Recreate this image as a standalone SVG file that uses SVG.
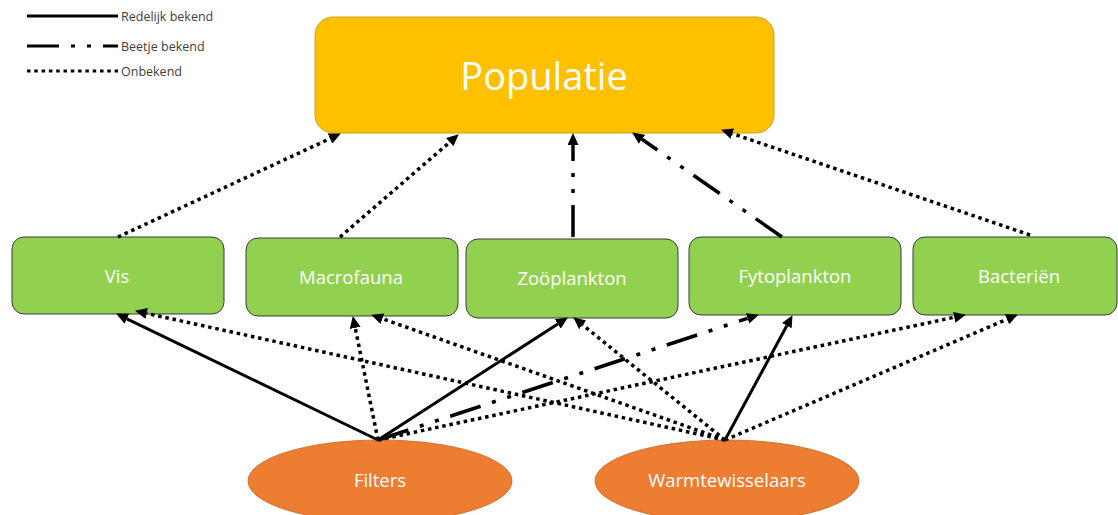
<svg xmlns="http://www.w3.org/2000/svg" width="1118" height="515" viewBox="0 0 1118 515">
<style>
.pop{fill:#FFC000;stroke:#C9A227;stroke-width:1}
.grn{fill:#92D050;stroke:#3A3A3A;stroke-width:1}
.org{fill:#ED7D31;stroke:#C8631F;stroke-width:0.8}
.lbl{font-family:"Open Sans","Noto Sans",sans-serif;fill:#FFFFFF;text-anchor:middle}
.leg{font-family:"Open Sans","Noto Sans",sans-serif;fill:#404040;font-size:12.5px}
.solid{stroke:#000;stroke-width:3;fill:none}
.dot{stroke:#000;stroke-width:3.5;fill:none;stroke-dasharray:3.5 3.8}
.dd{stroke:#000;stroke-width:3.5;fill:none;stroke-dasharray:32 12 4 12 4 12}
</style>
<defs>
<marker id="ah" markerUnits="userSpaceOnUse" markerWidth="12" markerHeight="11" refX="0" refY="5.5" orient="auto" viewBox="0 0 12 11">
<path d="M0,0 L12,5.5 L0,11 z" fill="#000"/>
</marker>
</defs>
<rect width="1118" height="515" fill="#FFFFFF"/>
<g id="legend">
<line class="solid" x1="27" y1="16" x2="118" y2="16"/>
<text class="leg" x="121" y="20.5">Redelijk bekend</text>
<line class="dd" x1="27" y1="46" x2="118" y2="46" style="stroke-width:3"/>
<text class="leg" x="121" y="50.5">Beetje bekend</text>
<line class="dot" x1="27" y1="71" x2="118" y2="71" style="stroke-width:3"/>
<text class="leg" x="121" y="76">Onbekend</text>
</g>
<g id="populatie">
<rect class="pop" x="315" y="17" width="459" height="116" rx="18"/>
<text class="lbl" x="544" y="90" font-size="38">Populatie</text>
</g>
<g id="vis">
<rect class="grn" x="12" y="237" width="212" height="77" rx="12"/>
<text class="lbl" x="117" y="283" font-size="18.5">Vis</text>
</g>
<g id="macrofauna">
<rect class="grn" x="246" y="238" width="212" height="78" rx="12"/>
<text class="lbl" x="351" y="284" font-size="18.5">Macrofauna</text>
</g>
<g id="zooplankton">
<rect class="grn" x="466" y="239" width="212" height="79" rx="12"/>
<text class="lbl" x="572" y="285" font-size="18.5">Zoöplankton</text>
</g>
<g id="fytoplankton">
<rect class="grn" x="689" y="237" width="212" height="78" rx="12"/>
<text class="lbl" x="795" y="283" font-size="18.5">Fytoplankton</text>
</g>
<g id="bacterien">
<rect class="grn" x="913" y="237" width="204" height="78" rx="12"/>
<text class="lbl" x="1019" y="283" font-size="18.5">Bacteriën</text>
</g>
<g id="filters">
<ellipse class="org" cx="380" cy="481" rx="132" ry="41"/>
<text class="lbl" x="380" y="487" font-size="18.5">Filters</text>
</g>
<g id="warmtewisselaars">
<ellipse class="org" cx="727" cy="481" rx="132" ry="41"/>
<text class="lbl" x="727" y="487" font-size="18.5">Warmtewisselaars</text>
</g>
<g id="connectors">
<line class="dot" x1="118" y1="237" x2="330" y2="138.6" marker-end="url(#ah)"/>
<line class="dot" x1="340" y1="237" x2="449.7" y2="142.2" marker-end="url(#ah)"/>
<line class="dd" x1="573" y1="237" x2="573" y2="145" marker-end="url(#ah)"/>
<line class="dd" x1="782" y1="237" x2="642" y2="139.3" marker-end="url(#ah)"/>
<line class="dot" x1="1030" y1="235" x2="732.4" y2="133.6" marker-end="url(#ah)"/>
<line class="solid" x1="378" y1="440" x2="126.9" y2="318.8" marker-end="url(#ah)"/>
<line class="dot" x1="378" y1="440" x2="355.2" y2="327.8" marker-end="url(#ah)"/>
<line class="solid" x1="378" y1="440" x2="557.8" y2="324" marker-end="url(#ah)"/>
<line class="dd" x1="378" y1="440" x2="747.5" y2="318.4" marker-end="url(#ah)"/>
<line class="dot" x1="378" y1="440" x2="954.2" y2="317.3" marker-end="url(#ah)"/>
<line class="dot" x1="725" y1="440" x2="146.7" y2="313.4" marker-end="url(#ah)"/>
<line class="dot" x1="725" y1="440" x2="382.4" y2="318.7" marker-end="url(#ah)"/>
<line class="dot" x1="725" y1="440" x2="582.6" y2="324.9" marker-end="url(#ah)"/>
<line class="solid" x1="725" y1="440" x2="786.8" y2="325.7" marker-end="url(#ah)"/>
<line class="dot" x1="725" y1="440" x2="1006.9" y2="319.3" marker-end="url(#ah)"/>
</g>
</svg>
